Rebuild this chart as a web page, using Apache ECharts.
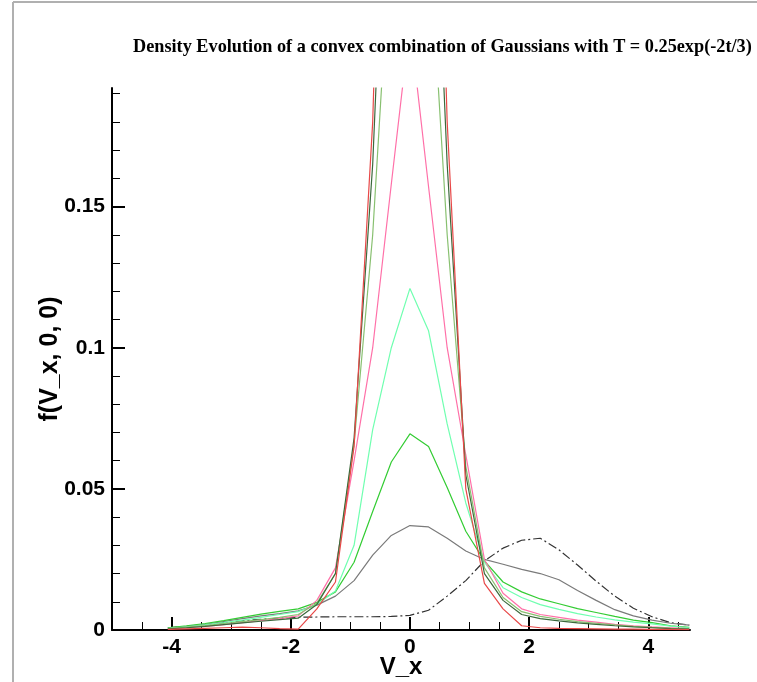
<!DOCTYPE html>
<html>
<head>
<meta charset="utf-8">
<script src="https://cdn.jsdelivr.net/npm/echarts@6/dist/echarts.min.js"></script>
<style>
html,body{margin:0;padding:0;background:#fff;}
#chart{width:757px;height:682px;}
</style>
</head>
<body>
<div id="chart"></div>
<script>
// velocity grid (V_x)
var vx = [-4.0625,-3.75,-3.4375,-3.125,-2.8125,-2.5,-2.1875,-1.875,-1.5625,-1.25,-0.9375,-0.625,-0.3125,0,0.3125,0.625,0.9375,1.25,1.5625,1.875,2.1875,2.5,2.8125,3.125,3.4375,3.75,4.0625,4.375,4.6875];

// f(V_x,0,0) at successive times
var f0 = [0.0008,0.0012,0.0018,0.0026,0.0033,0.0038,0.0042,0.0045,0.0046,0.0047,0.0047,0.0047,0.0048,0.0052,0.007,0.012,0.0175,0.0245,0.029,0.0318,0.0325,0.0284,0.023,0.0173,0.012,0.0077,0.0047,0.0026,0.0017];
var f1 = [0.0008,0.0013,0.002,0.003,0.004,0.005,0.0058,0.0068,0.0088,0.012,0.0175,0.0265,0.0335,0.037,0.0365,0.0325,0.028,0.025,0.0233,0.0215,0.02,0.0178,0.014,0.0105,0.0072,0.005,0.0035,0.0024,0.0017];
var f2 = [0.0008,0.0015,0.0023,0.0033,0.0045,0.0056,0.0066,0.0075,0.0098,0.0135,0.024,0.042,0.0595,0.0695,0.065,0.0505,0.035,0.0245,0.017,0.0135,0.011,0.0093,0.0076,0.0062,0.0048,0.0035,0.0026,0.0015,0.0009];
var f3 = [0.0006,0.0011,0.0018,0.0026,0.0035,0.0045,0.0055,0.0065,0.009,0.0138,0.03,0.071,0.1,0.121,0.106,0.073,0.045,0.024,0.015,0.0115,0.009,0.0073,0.0058,0.0046,0.0036,0.0028,0.0022,0.0014,0.0008];
var f4 = [0.0004,0.0008,0.0013,0.0019,0.0026,0.0033,0.004,0.005,0.0105,0.022,0.06,0.1,0.158,0.215,0.157,0.1,0.062,0.025,0.013,0.0075,0.0055,0.0045,0.0035,0.0028,0.002,0.0015,0.0011,0.0008,0.0005];
var f5 = [0.0005,0.001,0.0016,0.0023,0.003,0.0037,0.0045,0.0055,0.0095,0.02,0.066,0.14,0.25,0.3,0.25,0.14,0.058,0.022,0.0115,0.0065,0.0048,0.0038,0.003,0.0024,0.0018,0.0013,0.0009,0.0006,0.0004];
var f6 = [0.0004,0.0008,0.0013,0.0019,0.0025,0.0031,0.0037,0.0042,0.009,0.02,0.068,0.165,0.32,0.4,0.32,0.165,0.055,0.02,0.0105,0.0055,0.004,0.0032,0.0025,0.002,0.0015,0.0011,0.0008,0.0005,0.0003];
var f7 = [0.0002,0.0004,0.0006,0.0008,0.001,0.0008,0.0005,0.0003,0.0075,0.017,0.065,0.18,0.4,0.5,0.4,0.18,0.05,0.0165,0.0075,0.0015,0.0008,0.0006,0.0005,0.0004,0.0003,0.0003,0.0002,0.0002,0.0001];

// tick labels
var xMajor = [-4,-2,0,2,4];
var xMinor = [-4.5,-3.5,-3,-2.5,-1.5,-1,-0.5,0.5,1,1.5,2.5,3,3.5,4.5];
var yMajor = [0,0.05,0.1,0.15];
var yMinor = [0.01,0.02,0.03,0.04,0.06,0.07,0.08,0.09,0.11,0.12,0.13,0.14,0.16,0.17,0.18,0.19];

var titleText = 'Density Evolution of a convex combination of Gaussians with T = 0.25exp(-2t/3)';
var xName = 'V_x';
var yName = 'f(V_x, 0, 0)';

function pairs(ys){ return vx.map(function(x,i){ return [x, ys[i]]; }); }

var seriesDefs = [
  {d:f0, c:'#333333', t:[9,3,2,3]},
  {d:f1, c:'#7a7a7a', t:'solid'},
  {d:f2, c:'#33cc33', t:'solid'},
  {d:f3, c:'#70ffb0', t:'solid'},
  {d:f4, c:'#ff70a8', t:'solid'},
  {d:f5, c:'#88c070', t:'solid'},
  {d:f6, c:'#3c6a3c', t:'solid'},
  {d:f7, c:'#e84848', t:'solid'}
];

var chart = echarts.init(document.getElementById('chart'), null, {renderer:'canvas'});
var sansFam = 'Liberation Sans, Arial';

chart.setOption({
  animation:false,
  backgroundColor:'#fff',
  title:{
    text:titleText, left:128, top:33,
    textStyle:{fontFamily:'Liberation Serif, Times New Roman', fontWeight:'bold', fontSize:18.25, color:'#000'}
  },
  grid:{left:112, right:67, top:88, bottom:52, containLabel:false, outerBoundsMode:'none'},
  xAxis:[
    {type:'value', min:-5, max:4.7, position:'bottom',
     axisLine:{show:true, onZero:false, lineStyle:{color:'#000', width:2}},
     axisTick:{show:true, inside:true, length:13, customValues:xMajor, lineStyle:{color:'#000', width:2}},
     axisLabel:{show:true, customValues:xMajor, margin:7, fontFamily:sansFam, fontWeight:'bold', fontSize:21, color:'#000'},
     splitLine:{show:false},
     name:xName, nameLocation:'middle', nameGap:25, nameMoveOverlap:false,
     nameTextStyle:{fontFamily:sansFam, fontWeight:'bold', fontSize:24, color:'#000'}
    },
    {type:'value', min:-5, max:4.7, position:'bottom',
     axisLine:{show:false, onZero:false},
     axisTick:{show:true, inside:true, length:8, customValues:xMinor, lineStyle:{color:'#000', width:1}},
     axisLabel:{show:false},
     splitLine:{show:false}
    }
  ],
  yAxis:[
    {type:'value', min:0, max:0.192, position:'left',
     axisLine:{show:true, onZero:false, lineStyle:{color:'#000', width:2}},
     axisTick:{show:true, inside:true, length:13, customValues:yMajor, lineStyle:{color:'#000', width:2}},
     axisLabel:{show:true, customValues:yMajor, margin:7, fontFamily:sansFam, fontWeight:'bold', fontSize:21, color:'#000'},
     splitLine:{show:false},
     name:yName, nameLocation:'middle', nameGap:49, nameRotate:90, nameMoveOverlap:false,
     nameTextStyle:{fontFamily:sansFam, fontWeight:'bold', fontSize:25, color:'#000'}
    },
    {type:'value', min:0, max:0.192, position:'left',
     axisLine:{show:false, onZero:false},
     axisTick:{show:true, inside:true, length:8, customValues:yMinor, lineStyle:{color:'#000', width:1}},
     axisLabel:{show:false},
     splitLine:{show:false}
    }
  ],
  series: seriesDefs.map(function(s){
    return {type:'line', xAxisIndex:0, yAxisIndex:0, data:pairs(s.d), showSymbol:false, symbol:'none',
            clip:true, silent:true, lineStyle:{color:s.c, width:1.2, type:s.t}};
  }),
  graphic:[
    {type:'line', shape:{x1:13, y1:2, x2:13, y2:682}, style:{stroke:'#b0b0b0', lineWidth:2}},
    {type:'line', shape:{x1:13, y1:2, x2:757, y2:2}, style:{stroke:'#b0b0b0', lineWidth:2}}
  ]
});
</script>
</body>
</html>
